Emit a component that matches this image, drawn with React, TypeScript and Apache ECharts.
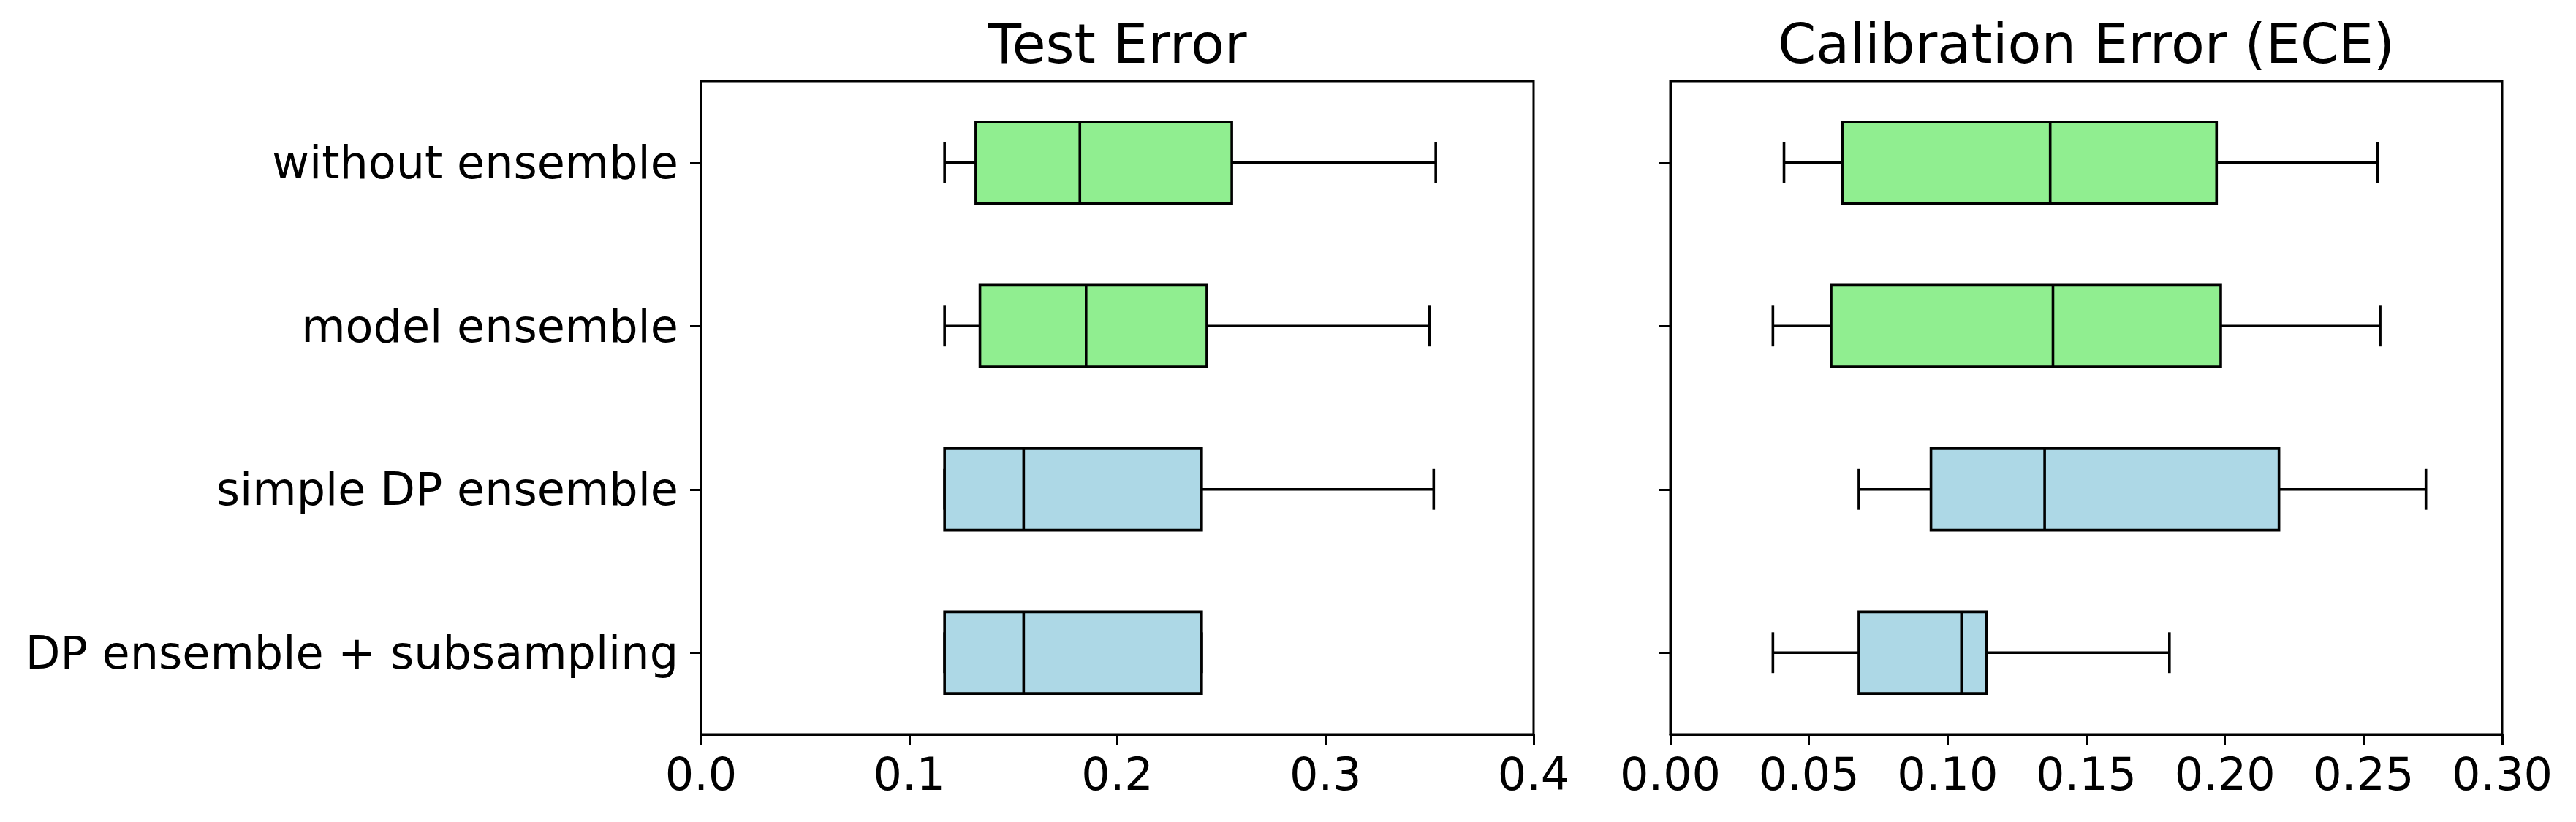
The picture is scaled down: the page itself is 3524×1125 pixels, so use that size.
import React, { useEffect, useRef } from "react";
import * as echarts from "echarts";

const categories = [
  "without ensemble",
  "model ensemble",
  "simple DP ensemble",
  "DP ensemble + subsampling",
];
const rowColors = ["#90EE90", "#90EE90", "#ADD8E6", "#ADD8E6"];

// Test Error: [whiskerLow, q1, median, q3, whiskerHigh]
const testLow = [0.117, 0.117, 0.117, 0.117];
const testQ1 = [0.132, 0.134, 0.117, 0.117];
const testMed = [0.182, 0.185, 0.155, 0.155];
const testQ3 = [0.255, 0.243, 0.2405, 0.2405];
const testHigh = [0.353, 0.35, 0.352, 0.2405];

// Calibration Error (ECE)
const eceLow = [0.041, 0.037, 0.068, 0.037];
const eceQ1 = [0.062, 0.058, 0.094, 0.068];
const eceMed = [0.137, 0.138, 0.135, 0.105];
const eceQ3 = [0.197, 0.1985, 0.2195, 0.114];
const eceHigh = [0.255, 0.256, 0.2725, 0.18];

const titles = ["Test Error", "Calibration Error (ECE)"];
const testTicks = { min: 0, max: 0.4, interval: 0.1, digits: 1 };
const eceTicks = { min: 0, max: 0.3, interval: 0.05, digits: 2 };

const FONT = "DejaVu Sans";
const LW = 3.6;
const TICK_FONT = 62;

function buildRows(lo: number[], q1: number[], med: number[], q3: number[], hi: number[]) {
  return categories.map((_, i) => [i, lo[i], q1[i], med[i], q3[i], hi[i]]);
}

const renderBox = (params: any, api: any) => {
  const cat = api.value(0);
  const pLo = api.coord([api.value(1), cat]);
  const pQ1 = api.coord([api.value(2), cat]);
  const pMed = api.coord([api.value(3), cat]);
  const pQ3 = api.coord([api.value(4), cat]);
  const pHi = api.coord([api.value(5), cat]);
  const band = api.size([0, 1])[1];
  const bh = band * 0.5;
  const ch = band * 0.25;
  const y = pLo[1];
  const ls = { stroke: "#000", lineWidth: LW };
  return {
    type: "group",
    children: [
      { type: "line", shape: { x1: pLo[0], y1: y, x2: pQ1[0], y2: y }, style: ls },
      { type: "line", shape: { x1: pQ3[0], y1: y, x2: pHi[0], y2: y }, style: ls },
      { type: "line", shape: { x1: pLo[0], y1: y - ch / 2, x2: pLo[0], y2: y + ch / 2 }, style: ls },
      { type: "line", shape: { x1: pHi[0], y1: y - ch / 2, x2: pHi[0], y2: y + ch / 2 }, style: ls },
      {
        type: "rect",
        shape: { x: pQ1[0], y: y - bh / 2, width: pQ3[0] - pQ1[0], height: bh },
        style: { fill: rowColors[cat], stroke: "#000", lineWidth: LW },
      },
      { type: "line", shape: { x1: pMed[0], y1: y - bh / 2, x2: pMed[0], y2: y + bh / 2 }, style: ls },
    ],
  };
};

export default function App() {
  const ref = useRef<HTMLDivElement>(null);
  useEffect(() => {
    if (!ref.current) return;
    const chart = echarts.init(ref.current, null, { renderer: "svg" });
    const grids = [
      { left: 959, right: 3524 - 2098, top: 111, bottom: 1125 - 1005 },
      { left: 2285, right: 3524 - 3423, top: 111, bottom: 1125 - 1005 },
    ];
    const xAxisBase = (t: any, idx: number) => ({
      type: "value",
      gridIndex: idx,
      min: t.min,
      max: t.max,
      interval: t.interval,
      splitLine: { show: false },
      axisLine: { show: true, lineStyle: { color: "#000", width: 3 } },
      axisTick: { show: true, inside: false, length: 15, lineStyle: { color: "#000", width: 3 } },
      axisLabel: {
        fontSize: TICK_FONT,
        fontFamily: FONT,
        color: "#000",
        margin: 23,
        formatter: (v: number) => v.toFixed(t.digits),
      },
    });
    const yAxisBase = (idx: number, showLabels: boolean) => ({
      type: "category",
      gridIndex: idx,
      data: categories,
      inverse: true,
      axisLine: { show: true, lineStyle: { color: "#000", width: 3 } },
      axisTick: { show: true, alignWithLabel: true, length: 15, lineStyle: { color: "#000", width: 3 } },
      axisLabel: {
        show: showLabels,
        fontSize: TICK_FONT,
        fontFamily: FONT,
        color: "#000",
        margin: 31,
      },
      splitLine: { show: false },
    });
    chart.setOption({
      animation: false,
      backgroundColor: "#fff",
      grid: grids.map((g) => ({ ...g, show: true, borderColor: "#000", borderWidth: 3, backgroundColor: "transparent" })),
      xAxis: [xAxisBase(testTicks, 0), xAxisBase(eceTicks, 1)],
      yAxis: [yAxisBase(0, true), yAxisBase(1, false)],
      graphic: titles.map((t, i) => ({
        type: "text",
        x: i === 0 ? (959 + 2098) / 2 : (2285 + 3423) / 2,
        y: 60,
        style: {
          text: t,
          fontSize: 75,
          fontFamily: FONT,
          fill: "#000",
          textAlign: "center",
          textVerticalAlign: "middle",
        },
      })),
      series: [
        {
          type: "custom",
          xAxisIndex: 0,
          yAxisIndex: 0,
          renderItem: renderBox,
          encode: { x: [1, 2, 3, 4, 5], y: 0 },
          data: buildRows(testLow, testQ1, testMed, testQ3, testHigh),
        },
        {
          type: "custom",
          xAxisIndex: 1,
          yAxisIndex: 1,
          renderItem: renderBox,
          encode: { x: [1, 2, 3, 4, 5], y: 0 },
          data: buildRows(eceLow, eceQ1, eceMed, eceQ3, eceHigh),
        },
      ],
    });
    return () => chart.dispose();
  }, []);
  return (
    <div
      ref={ref}
      style={{ position: "fixed", left: 0, top: 0, width: 3524, height: 1125 }}
    />
  );
}
